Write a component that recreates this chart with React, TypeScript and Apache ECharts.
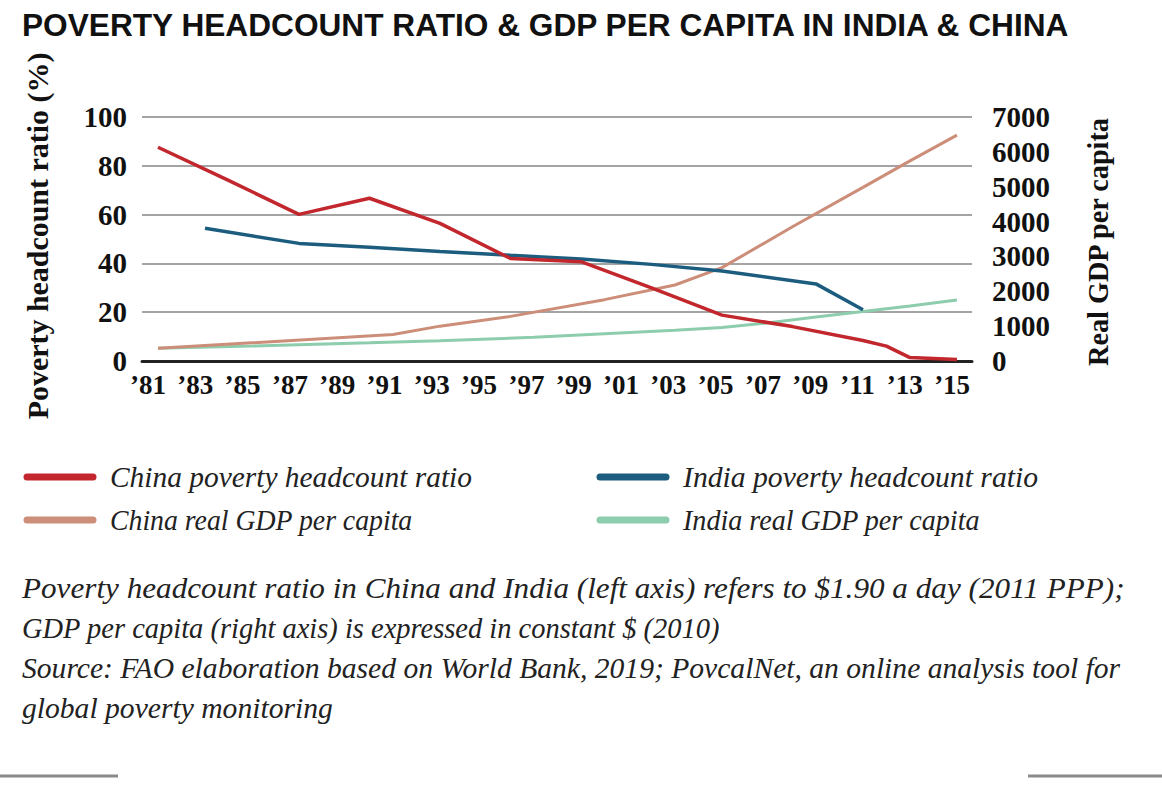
import React, { useEffect, useRef } from "react";
import * as echarts from "echarts";

const TITLE = "POVERTY HEADCOUNT RATIO & GDP PER CAPITA IN INDIA & CHINA";
const LEFT_AXIS_NAME = "Poverty headcount ratio (%)";
const RIGHT_AXIS_NAME = "Real GDP per capita";

const xLabelYears = [1981, 1983, 1985, 1987, 1989, 1991, 1993, 1995, 1997, 1999, 2001, 2003, 2005, 2007, 2009, 2011, 2013, 2015];

const chinaPovYears = [1981, 1984, 1987, 1990, 1993, 1996, 1999, 2002, 2005, 2008, 2011, 2012, 2013, 2015];
const chinaPov = [87.6, 74.0, 60.1, 66.7, 56.4, 42.0, 40.7, 30.0, 18.8, 14.1, 8.4, 6.1, 1.4, 0.6];

const indiaPovYears = [1983, 1987, 1990, 1993, 1996, 1999, 2002, 2005, 2009, 2011];
const indiaPov = [54.4, 48.2, 46.6, 44.9, 43.3, 41.8, 39.6, 36.9, 31.6, 21.0];

const chinaGdpYears = [1981, 1991, 1993, 1996, 2000, 2003, 2005, 2008, 2011, 2013, 2015];
const chinaGdp = [364, 760, 1000, 1280, 1760, 2180, 2680, 3850, 4980, 5740, 6480];

const indiaGdpYears = [1981, 1985, 1990, 1993, 1997, 2000, 2003, 2005, 2007, 2009, 2011, 2013, 2015];
const indiaGdp = [364, 430, 520, 580, 680, 780, 880, 960, 1100, 1260, 1420, 1580, 1750];

const legendNames = [
  "China poverty headcount ratio",
  "India poverty headcount ratio",
  "China real GDP per capita",
  "India real GDP per capita",
];

const notes = [
  "Poverty headcount ratio in China and India (left axis) refers to $1.90 a day (2011 PPP);",
  "GDP per capita (right axis) is expressed in constant $ (2010)",
  "Source: FAO elaboration based on World Bank, 2019; PovcalNet, an online analysis tool for",
  "global poverty monitoring",
];

const COLORS = {
  chinaPov: "#c1272d",
  indiaPov: "#1c5d7f",
  chinaGdp: "#cc8e78",
  indiaGdp: "#8dcdad",
};

const SERIF = '"Liberation Serif", "DejaVu Serif", serif';
const SANS = '"Liberation Sans", Arial, sans-serif';

function measure(text: string, font: string): number {
  const c = document.createElement("canvas").getContext("2d");
  if (!c) return text.length * 10;
  c.font = font;
  return c.measureText(text).width;
}

function pairs(xs: number[], ys: number[]) {
  return xs.map((x, i) => [x, ys[i]]);
}

export default function App() {
  const ref = useRef<HTMLDivElement>(null);

  useEffect(() => {
    if (!ref.current) return;
    const chart = echarts.init(ref.current, null, { renderer: "svg" });

    const titleFont = `bold 32px ${SANS}`;
    const titleScale = 1050 / measure(TITLE, titleFont);

    const noteFont = `italic 29px ${SERIF}`;
    const fit = (t: string, w: number) => w / measure(t, noteFont);

    const axFont = `bold 29px ${SERIF}`;
    const leftScale = 367 / measure(LEFT_AXIS_NAME, axFont);
    const rightScale = 250 / measure(RIGHT_AXIS_NAME, axFont);

    const legendPos = [
      { x: 27, y: 477, color: COLORS.chinaPov, w: 362 },
      { x: 600, y: 477, color: COLORS.indiaPov, w: 355 },
      { x: 27, y: 520, color: COLORS.chinaGdp, w: 303 },
      { x: 600, y: 520, color: COLORS.indiaGdp, w: 297 },
    ];

    const graphics: any[] = [
      {
        type: "text",
        x: 22,
        y: 25,
        scaleX: titleScale,
        style: {
          text: TITLE,
          font: titleFont,
          fill: "#111",
          align: "left",
          verticalAlign: "middle",
        },
      },
      {
        type: "text",
        x: 38,
        y: 236,
        rotation: Math.PI / 2,
        scaleX: leftScale,
        style: {
          text: LEFT_AXIS_NAME,
          font: axFont,
          fill: "#111",
          align: "center",
          verticalAlign: "middle",
        },
      },
      {
        type: "text",
        x: 1098,
        y: 242,
        rotation: Math.PI / 2,
        scaleX: rightScale,
        style: {
          text: RIGHT_AXIS_NAME,
          font: axFont,
          fill: "#111",
          align: "center",
          verticalAlign: "middle",
        },
      },
      {
        type: "line",
        shape: { x1: 0, y1: 776, x2: 118, y2: 776 },
        style: { stroke: "#8a8a8a", lineWidth: 3 },
      },
      {
        type: "line",
        shape: { x1: 1028, y1: 776, x2: 1162, y2: 776 },
        style: { stroke: "#8a8a8a", lineWidth: 3 },
      },
    ];

    legendPos.forEach((p, i) => {
      graphics.push({
        type: "line",
        shape: { x1: p.x, y1: p.y, x2: p.x + 66, y2: p.y },
        style: { stroke: p.color, lineWidth: 7, lineCap: "round" },
      });
      graphics.push({
        type: "text",
        x: p.x + 83,
        y: p.y,
        scaleX: fit(legendNames[i], p.w),
        style: {
          text: legendNames[i],
          font: noteFont,
          fill: "#222",
          align: "left",
          verticalAlign: "middle",
        },
      });
    });

    const noteY = [588, 628, 668, 708];
    const noteW = [1103, 698, 1098, 311];
    notes.forEach((t, i) => {
      graphics.push({
        type: "text",
        x: 22,
        y: noteY[i],
        scaleX: fit(t, noteW[i]),
        style: {
          text: t,
          font: noteFont,
          fill: "#222",
          align: "left",
          verticalAlign: "middle",
        },
      });
    });

    const option: any = {
      animation: false,
      backgroundColor: "#ffffff",
      grid: { left: 142, right: 190, top: 117, bottom: 435 },
      xAxis: [
        {
          type: "value",
          min: 1980.32,
          max: 2015.64,
          axisLine: { show: true, lineStyle: { color: "#222", width: 3 } },
          axisTick: { show: false },
          axisLabel: { show: false },
          splitLine: { show: false },
        },
        {
          type: "value",
          position: "bottom",
          min: 1980.746,
          max: 2015.84,
          axisLine: { show: false },
          axisTick: { show: false },
          splitLine: { show: false },
          axisLabel: {
            show: true,
            customValues: xLabelYears,
            formatter: (v: number) => "\u2019" + String(Math.round(v)).slice(2),
            fontFamily: SERIF,
            fontWeight: "bold",
            fontSize: 27,
            color: "#111",
            margin: 10,
          },
        },
      ],
      yAxis: [
        {
          type: "value",
          min: 0,
          max: 100,
          interval: 20,
          axisLine: { show: false },
          axisTick: { show: false },
          splitLine: { show: true, lineStyle: { color: "#a4a4a4", width: 2 } },
          axisLabel: {
            formatter: (v: number) => String(v),
            fontFamily: SERIF,
            fontWeight: "bold",
            fontSize: 29,
            color: "#111",
            margin: 15,
            padding: [0, 0, 12, 0],
          },
        },
        {
          type: "value",
          min: 0,
          max: 7000,
          interval: 1000,
          position: "right",
          axisLine: { show: false },
          axisTick: { show: false },
          splitLine: { show: false },
          axisLabel: {
            formatter: (v: number) => String(v),
            fontFamily: SERIF,
            fontWeight: "bold",
            fontSize: 29,
            color: "#111",
            margin: 20,
            padding: [0, 0, 8, 0],
          },
        },
      ],
      series: [
        {
          name: legendNames[3],
          type: "line",
          xAxisIndex: 0,
          yAxisIndex: 1,
          data: pairs(indiaGdpYears, indiaGdp),
          showSymbol: false,
          lineStyle: { color: COLORS.indiaGdp, width: 3 },
          z: 2,
        },
        {
          name: legendNames[2],
          type: "line",
          xAxisIndex: 0,
          yAxisIndex: 1,
          data: pairs(chinaGdpYears, chinaGdp),
          showSymbol: false,
          lineStyle: { color: COLORS.chinaGdp, width: 3 },
          z: 3,
        },
        {
          name: legendNames[1],
          type: "line",
          xAxisIndex: 0,
          yAxisIndex: 0,
          data: pairs(indiaPovYears, indiaPov),
          showSymbol: false,
          lineStyle: { color: COLORS.indiaPov, width: 3.5 },
          z: 4,
        },
        {
          name: legendNames[0],
          type: "line",
          xAxisIndex: 0,
          yAxisIndex: 0,
          data: pairs(chinaPovYears, chinaPov),
          showSymbol: false,
          lineStyle: { color: COLORS.chinaPov, width: 3.5 },
          z: 5,
        },
      ],
      graphic: graphics,
    };

    chart.setOption(option);
    return () => chart.dispose();
  }, []);

  return (
    <div
      ref={ref}
      style={{ position: "absolute", left: 0, top: 0, width: 1162, height: 796, background: "#fff" }}
    />
  );
}
